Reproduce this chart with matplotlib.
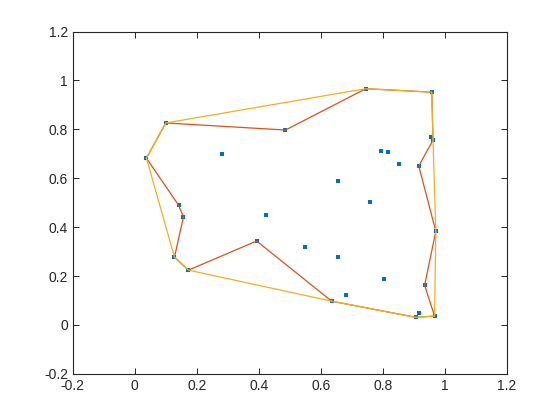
import matplotlib
matplotlib.use("Agg")
import matplotlib.pyplot as plt
import numpy as np

x = [0.100, 0.486, 0.280, 0.0375, 0.141, 0.157, 0.422, 0.745, 0.958, 0.957,
     0.962, 0.793, 0.816, 0.851, 0.916, 0.657, 0.758, 0.128, 0.173, 0.393,
     0.548, 0.657, 0.635, 0.680, 0.971, 0.935, 0.803, 0.916, 0.906, 0.967]
y = [0.826, 0.797, 0.699, 0.682, 0.490, 0.442, 0.449, 0.966, 0.952, 0.768,
     0.756, 0.711, 0.707, 0.658, 0.650, 0.588, 0.502, 0.277, 0.224, 0.343,
     0.318, 0.277, 0.097, 0.122, 0.383, 0.162, 0.187, 0.048, 0.031, 0.036]

# 1-based indices of boundary vertices
boundary_idx = [1, 2, 8, 9, 11, 15, 25, 26, 30, 29, 23, 20, 19, 18, 6, 5, 4, 1]
hull_idx = [4, 1, 8, 9, 11, 25, 30, 29, 23, 19, 18, 4]

xticks = [-0.2, 0, 0.2, 0.4, 0.6, 0.8, 1, 1.2]
xticklabels = ['-0.2', '0', '0.2', '0.4', '0.6', '0.8', '1', '1.2']
yticks = [-0.2, 0, 0.2, 0.4, 0.6, 0.8, 1, 1.2]
yticklabels = ['-0.2', '0', '0.2', '0.4', '0.6', '0.8', '1', '1.2']

plt.rcParams['font.family'] = ['Liberation Sans', 'DejaVu Sans']

fig = plt.figure(figsize=(5.6, 4.2), dpi=100)
ax = fig.add_axes([0.13, 0.11, 0.775, 0.815])

xa = np.array(x)
ya = np.array(y)
bi = np.array(boundary_idx) - 1
hi = np.array(hull_idx) - 1

ax.plot(xa, ya, linestyle='none', marker='s', markersize=2.3,
        markeredgewidth=0, color='#0072BD', zorder=2)
ax.plot(xa[bi], ya[bi], color='#D95319', linewidth=0.9, zorder=3)
ax.plot(xa[hi], ya[hi], color='#EDB120', linewidth=0.9, zorder=4)

ax.set_xlim(-0.2, 1.2)
ax.set_ylim(-0.2, 1.2)
ax.set_xticks(xticks)
ax.set_xticklabels(xticklabels)
ax.set_yticks(yticks)
ax.set_yticklabels(yticklabels)
ax.tick_params(direction='in', top=True, right=True, length=4, width=0.7,
               colors='#262626', labelsize=10)
for s in ax.spines.values():
    s.set_color('#262626')
    s.set_linewidth(0.8)

fig.savefig('out.png', dpi=100)
